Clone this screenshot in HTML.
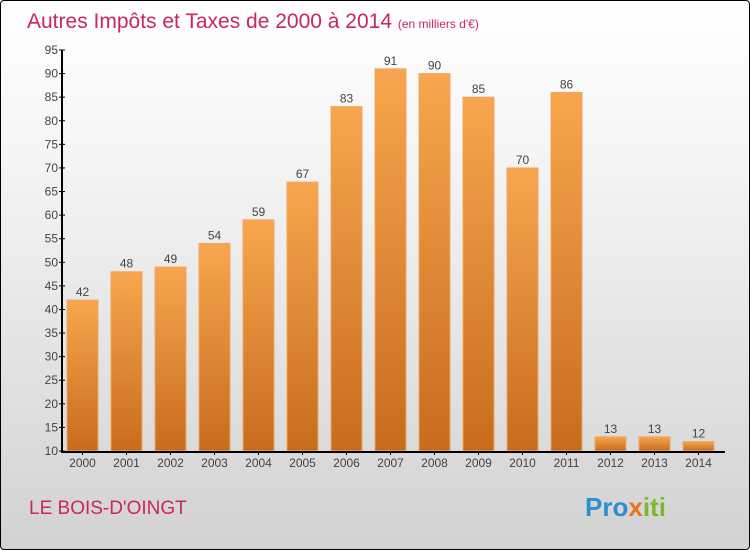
<!DOCTYPE html>
<html><head><meta charset="utf-8"><style>
body{margin:0;}
#c{position:relative;width:748px;height:548px;border:1px solid #000;border-radius:4px;overflow:hidden;background:linear-gradient(#ffffff,#f4f4f4 30%,#d2d2d2);font-family:"Liberation Sans",sans-serif;}
</style></head><body>
<div id="c">
<svg id="s" width="748" height="548" xmlns="http://www.w3.org/2000/svg">
<defs><linearGradient id="g" x1="0" y1="0" x2="0" y2="1"><stop offset="0" stop-color="#f7a64f"/><stop offset="1" stop-color="#c86c1c"/></linearGradient></defs>
<text x="26" y="27" font-size="21" fill="#c8285a">Autres Impôts et Taxes de 2000 à 2014 <tspan font-size="12">(en milliers d'€)</tspan></text>
<text x="28" y="513" font-size="19" fill="#c8285a">LE BOIS-D'OINGT</text>
<text x="584" y="515" font-size="26" font-weight="bold" fill="#2a8fd0">Pro<tspan fill="#e8731e">x</tspan><tspan fill="#7cb82f">iti</tspan></text>
<g id="plot"></g>
</svg>
</div>
<script>
const years=["2000","2001","2002","2003","2004","2005","2006","2007","2008","2009","2010","2011","2012","2013","2014"];
const values=[42,48,49,54,59,67,83,91,90,85,70,86,13,13,12];
const yTicks=[10,15,20,25,30,35,40,45,50,55,60,65,70,75,80,85,90,95];
const NS="http://www.w3.org/2000/svg";
const g=document.getElementById('plot');
const y0=450,y1=49,vmin=10,vmax=95;
const y=v=>y0-(v-vmin)*(y0-y1)/(vmax-vmin);
const x=i=>66+i*44;
function mk(t,a){const e=document.createElementNS(NS,t);for(const k in a)e.setAttribute(k,a[k]);g.appendChild(e);return e;}
years.forEach((yr,i)=>{
 const r=mk('rect',{x:x(i),y:y(values[i]),width:31,height:y0-y(values[i]),fill:'url(#g)',stroke:'#f0a860','stroke-width':1});
 
 
 const t=mk('text',{x:x(i)+15.5,y:y(values[i])-4,'text-anchor':'middle','font-size':12,fill:'#444'});t.textContent=values[i];
 
 
 const l=mk('text',{x:x(i)+15.5,y:466,'text-anchor':'middle','font-size':12,fill:'#444'});l.textContent=yr;
 
 
 mk('line',{x1:x(i)+15.5,x2:x(i)+15.5,y1:y0,y2:y0+4,stroke:'#000'});
});
yTicks.forEach(v=>{
 mk('line',{x1:58,x2:64,y1:y(v),y2:y(v),stroke:'#000'});
 const t=mk('text',{x:57,y:y(v)+4,'text-anchor':'end','font-size':12,fill:'#444'});t.textContent=v;
 
 
});
const ya=mk('line',{x1:61,x2:61,y1:y1,y2:y0+1,stroke:'#000','stroke-width':2});


const xa=mk('line',{x1:60,x2:724,y1:y0+1,y2:y0+1,stroke:'#000','stroke-width':2});


</script>
</body></html>
